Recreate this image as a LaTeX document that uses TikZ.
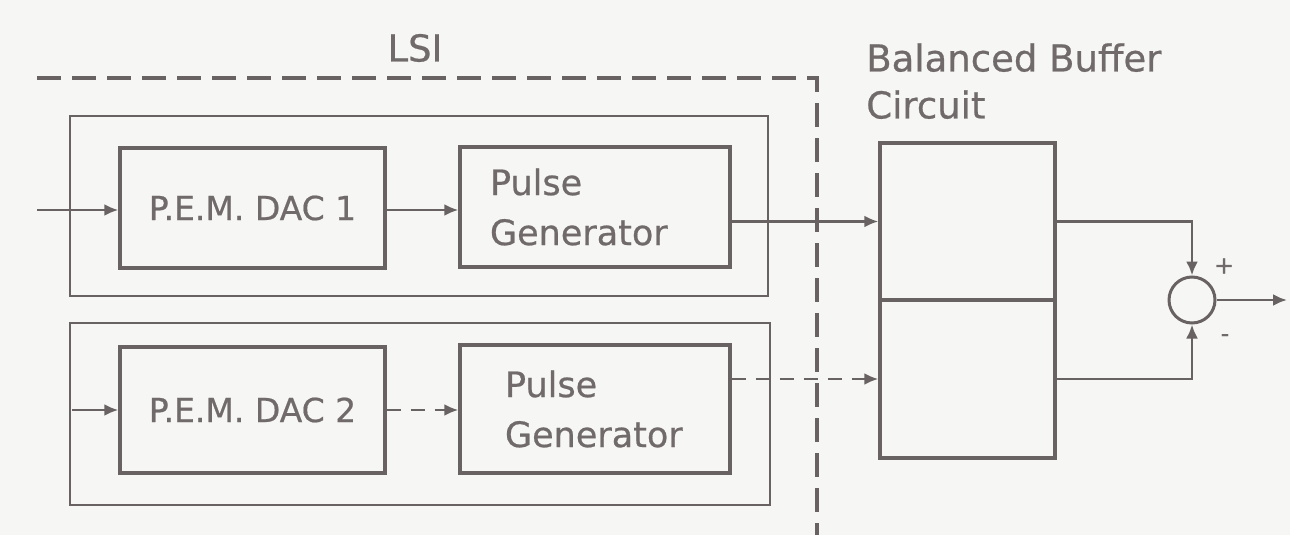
\documentclass[tikz,border=0pt]{standalone}
\usepackage{fontspec}
\setmainfont{DejaVu Sans}[FakeBold=0.6]
\usetikzlibrary{arrows.meta,calc}
\definecolor{linec}{RGB}{104,98,98}
\definecolor{textc}{RGB}{112,106,106}
\definecolor{bgc}{RGB}{246,246,244}
\begin{document}
\begin{tikzpicture}[x=1pt,y=-1pt,
  line width=2.6pt,
  every node/.style={text=textc},
  box/.style={draw=linec, line width=3.2pt, rectangle, inner sep=0pt},
  frame/.style={draw=linec, line width=2.6pt},
  lsi/.style={draw=linec, line width=4pt, dash pattern=on 24pt off 11pt},
  conn/.style={draw=linec, line width=2.8pt, -{Latex[length=14pt,width=12pt]}},
  brokenconn/.style={conn, dash pattern=on 14pt off 10pt},
  lab/.style={font=\fontsize{35}{50}\selectfont},
  dacfont/.style={font=\fontsize{33}{40}\selectfont}
]
\fill[bgc] (0,0) rectangle (1290,535);
\useasboundingbox (0,0) rectangle (1290,535);

% LSI boundary
\draw[lsi] (37,78) -- (817,78) -- (817,540);
\node[lab, font=\fontsize{37}{44}\selectfont] (lsil) at (415,48) {LSI};

% inner frames
\draw[frame] (70,116) rectangle (768,296);
\draw[frame] (70,323) rectangle (770,505);

% top row
\node[box, dacfont, minimum width=265pt, minimum height=120pt] (dac1) at (252.5,208) {P.E.M. DAC 1};
\node[box, lab, minimum width=270pt, minimum height=120pt, align=left, text width=210pt] (pg1) at (595,207) {Pulse\\Generator};

% bottom row
\node[box, dacfont, minimum width=265pt, minimum height=126pt] (dac2) at (252.5,410) {P.E.M. DAC 2};
\node[box, lab, minimum width=270pt, minimum height=128pt, align=left, text width=180pt] (pg2) at (595,409) {Pulse\\Generator};

% balanced buffer
\node[box, minimum width=175pt, minimum height=157pt] (bufU) at (967.5,221.5) {};
\node[box, minimum width=175pt, minimum height=158pt] (bufL) at (967.5,379) {};
\node[lab, font=\fontsize{37}{47}\selectfont, anchor=north west, align=left, inner sep=0pt] (bbl) at (865,42) {Balanced Buffer\\Circuit};

% summing junction
\node[draw=linec, line width=3pt, circle, minimum size=46pt, inner sep=0pt] (sum) at (1192,300) {};
\node[font=\fontsize{24}{24}\selectfont] (plus) at (1224,266) {+};
\node[font=\fontsize{24}{24}\selectfont] (minus) at (1225,338) {-};

% coordinates for free ends
\coordinate (in1) at (37,210);
\coordinate (in2) at (72,410);
\coordinate (out) at (1287,300);

% connectors
\draw[conn] (in1) -- (dac1.west |- in1);
\draw[conn] (dac1.east |- in1) -- (pg1.west |- in1);
\draw[conn] (bufU.west -| pg1.east) -- (bufU.west);
\draw[conn] (in2) -- (dac2.west);
\draw[brokenconn] (dac2.east) -- (pg2.west |- dac2.east);
\draw[brokenconn] (bufL.west -| pg2.east) -- (bufL.west);
\draw[conn] (bufU.east) -| (sum.north);
\draw[conn] (bufL.east) -| (sum.south);
\draw[conn] (sum.east) -- (out);
\end{tikzpicture}
\end{document}
